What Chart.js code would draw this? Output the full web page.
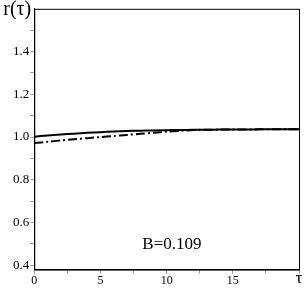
<!DOCTYPE html>
<html>
<head>
<meta charset="utf-8">
<script src="https://cdn.jsdelivr.net/npm/chart.js@4"></script>
<style>
  html, body { margin: 0; padding: 0; background: #fff; }
  #wrap { width: 305px; height: 289px; }
</style>
</head>
<body>
<div id="wrap"><canvas id="rChart"></canvas></div>
<script>
// tau values and the two r(tau) curves
const tau = [0, 1, 2, 3, 4, 5, 6, 7, 8, 9, 10, 11, 12, 13, 14, 15, 16, 17, 18, 19, 20];
const rSolid = [1.002, 1.007, 1.012, 1.016, 1.020, 1.023, 1.026, 1.028, 1.030, 1.031, 1.032, 1.033, 1.034, 1.034, 1.035, 1.035, 1.035, 1.036, 1.036, 1.036, 1.036];
const rDashDot = [0.972, 0.978, 0.984, 0.990, 0.995, 1.000, 1.005, 1.010, 1.015, 1.020, 1.025, 1.029, 1.033, 1.034, 1.035, 1.035, 1.035, 1.036, 1.036, 1.036, 1.036];
const xTicks = [0, 2.5, 5, 7.5, 10, 12.5, 15, 17.5, 20];
const yTicks = [0.4, 0.5, 0.6, 0.7, 0.8, 0.9, 1.0, 1.1, 1.2, 1.3, 1.4, 1.5];
const labelB = 'B=0.109';

const serif = '"Liberation Serif", "DejaVu Serif", serif';

// frame round the plot plus the free-standing texts
const framePlugin = {
    id: 'frame',
    afterDraw(chart) {
        const { ctx, chartArea: a, scales } = chart;
        ctx.save();
        ctx.strokeStyle = '#000';
        ctx.lineWidth = 1;
        ctx.strokeRect(a.left + 0.5, a.top + 0.5, a.right - a.left, a.bottom - a.top);
        ctx.fillStyle = '#000';
        ctx.font = '20px ' + serif;
        ctx.textAlign = 'right';
        ctx.textBaseline = 'top';
        ctx.fillText('r(\u03c4)', a.left - 3, 0);
        // axis name in place of the last x tick label
        ctx.font = '17px ' + serif;
        ctx.textAlign = 'center';
        ctx.textBaseline = 'middle';
        ctx.fillText('\u03c4', a.right, a.bottom + 9);
        ctx.fillText(labelB, scales.x.getPixelForValue(10.4), scales.y.getPixelForValue(0.495));
        ctx.restore();
    }
};

new Chart(document.getElementById('rChart'), {
    type: 'line',
    data: {
        labels: tau,
        datasets: [{
            data: tau.map((t, i) => ({ x: t, y: rSolid[i] })),
            borderColor: '#000',
            borderWidth: 2,
            pointRadius: 0,
            tension: 0.3
        }, {
            data: tau.map((t, i) => ({ x: t, y: rDashDot[i] })),
            borderColor: '#000',
            borderWidth: 2,
            borderDash: [9, 3, 2, 3],
            pointRadius: 0,
            tension: 0.3
        }]
    },
    options: {
        responsive: true,
        maintainAspectRatio: false,
        animation: false,
        layout: { padding: { top: -4, right: 6, left: 12, bottom: 1 } },
        plugins: {
            legend: { display: false },
            tooltip: { enabled: false }
        },
        scales: {
            x: {
                type: 'linear',
                min: 0,
                max: 20,
                afterBuildTicks: axis => { axis.ticks = xTicks.map(v => ({ value: v })); },
                grid: { drawOnChartArea: false, tickLength: 4, color: '#999' },
                border: { color: '#000' },
                ticks: {
                    maxRotation: 0,
                    autoSkip: false,
                    padding: 0,
                    color: '#000',
                    font: { family: serif, size: 12 },
                    callback: v => (v % 5 === 0 && v < 20) ? String(v) : ''
                }
            },
            y: {
                min: 0.38,
                max: 1.6,
                afterBuildTicks: axis => { axis.ticks = yTicks.map(v => ({ value: v })); },
                grid: { drawOnChartArea: false, tickLength: 4, color: '#999' },
                border: { color: '#000' },
                ticks: {
                    autoSkip: false,
                    padding: 1,
                    color: '#000',
                    font: { family: serif, size: 13 },
                    callback: v => (Math.round(v * 10) % 2 === 0) ? v.toFixed(1) : ''
                }
            }
        }
    },
    plugins: [framePlugin]
});
</script>
</body>
</html>
